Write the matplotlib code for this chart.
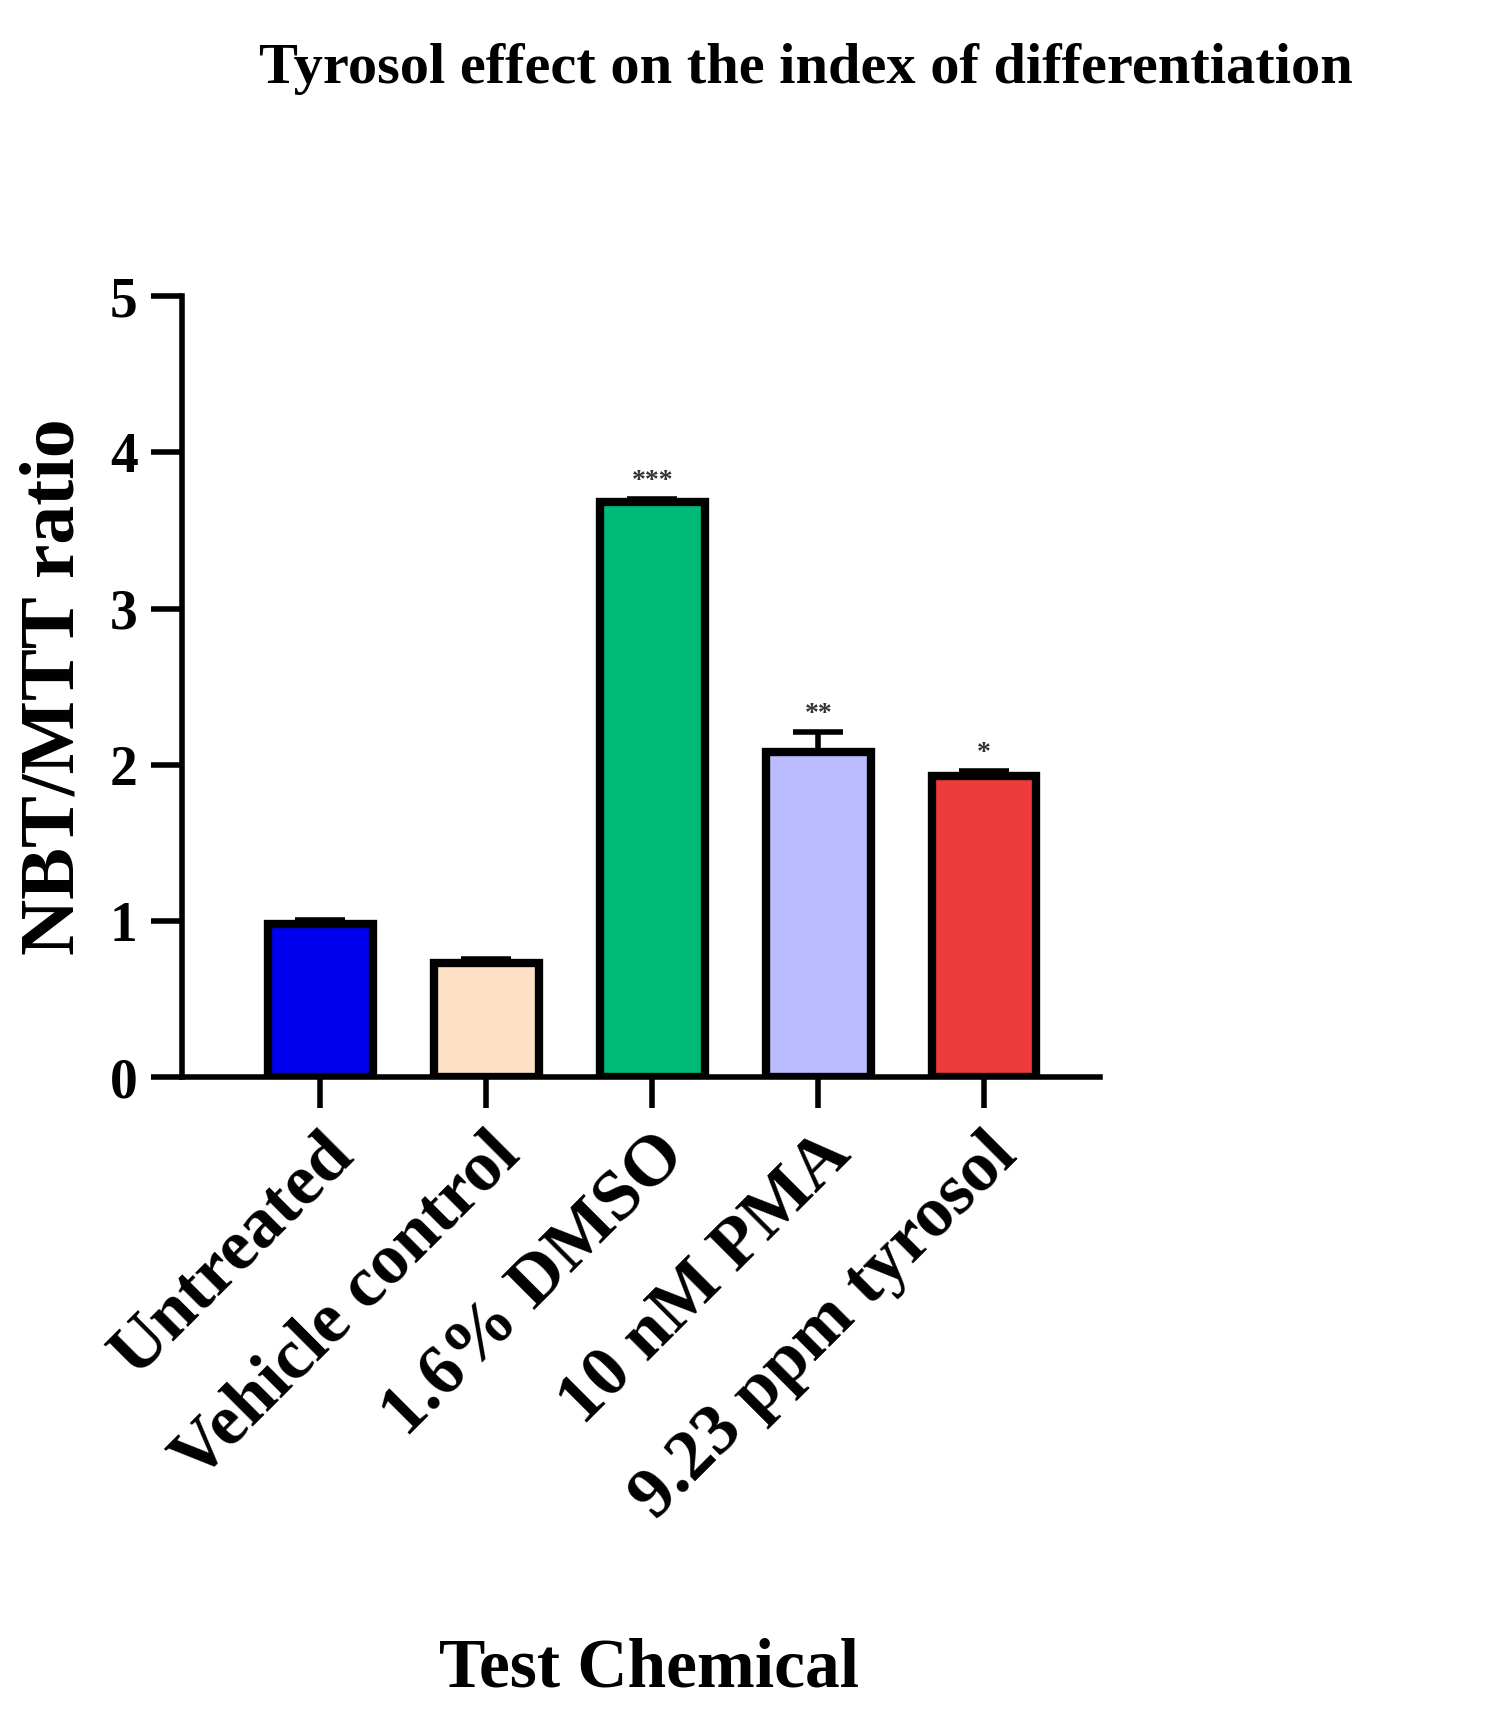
import matplotlib
matplotlib.use("Agg")
import matplotlib.pyplot as plt
import numpy as np

categories = ["Untreated", "Vehicle control", "1.6% DMSO", "10 nM PMA", "9.23 ppm tyrosol"]
values = [0.98, 0.73, 3.68, 2.08, 1.93]
errors = [0.03, 0.03, 0.02, 0.13, 0.03]
stars = ["", "", "***", "**", "*"]
colors = ["#0000ee", "#fde0c5", "#00bb77", "#bbbbff", "#ee3b3b"]

plt.rcParams["font.family"] = ["Liberation Serif", "DejaVu Serif"]
plt.rcParams["font.weight"] = "bold"

fig = plt.figure(figsize=(14.93, 17.21), dpi=100)
ax = fig.add_axes([0.122, 0.374, 0.615, 0.454])

x = np.arange(len(categories))
ax.bar(x, values, width=0.63, color=colors, edgecolor="black", linewidth=6, zorder=2)
ax.errorbar(x, values, yerr=[np.zeros(len(errors)), errors], fmt="none",
            ecolor="black", elinewidth=4, capsize=18, capthick=4, zorder=3)
for xi, v, e, s in zip(x, values, errors, stars):
    if s:
        ax.text(xi, v + e + 0.03, s, ha="center", va="bottom", fontsize=20, color="#333333")

ax.set_xlim(-0.833, 4.7)
ax.set_ylim(0, 5)
ax.set_yticks(range(6))
ax.set_yticklabels([str(i) for i in range(6)], fontsize=40, fontweight="bold")
ax.set_xticks(x)
ax.set_xticklabels(categories, rotation=45, ha="right", rotation_mode="anchor",
                   fontsize=52, fontweight="bold")
for sp in ["top", "right"]:
    ax.spines[sp].set_visible(False)
ax.spines["left"].set_linewidth(4)
ax.spines["bottom"].set_linewidth(4)
ax.tick_params(axis="both", width=4, length=22, pad=10)

ax.set_ylabel("NBT/MTT ratio", fontsize=56, fontweight="bold", labelpad=14)
fig.text(0.435, 0.02, "Test Chemical", ha="center", fontsize=50, fontweight="bold")
fig.text(0.54, 0.952, "Tyrosol effect on the index of differentiation", ha="center",
         fontsize=42, fontweight="bold")

fig.savefig("out.png", dpi=100)
